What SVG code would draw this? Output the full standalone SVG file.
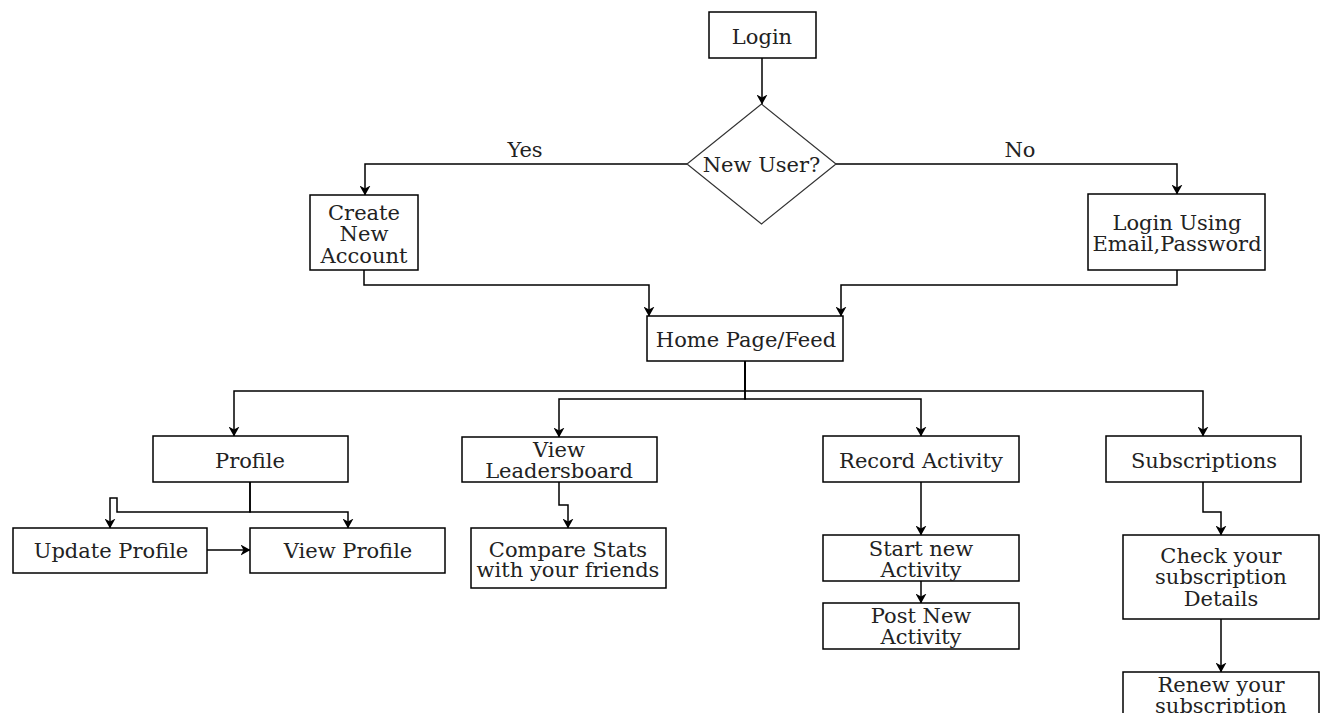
<svg xmlns="http://www.w3.org/2000/svg" width="1321" height="713" viewBox="0 0 1321 713">
<style>
.box{fill:#fff;stroke:#000;stroke-width:1.5}
.dia{fill:#fff;stroke:#333;stroke-width:1.2}
.t{font-family:"DejaVu Serif","Liberation Serif",serif;font-size:21px;fill:#222;text-anchor:middle}
.e{fill:none;stroke:#000;stroke-width:1.5;marker-end:url(#arr)}
</style>
<defs>
<marker id="arr" viewBox="0 0 10 11" refX="9.5" refY="5.5" markerWidth="10" markerHeight="11" markerUnits="userSpaceOnUse" orient="auto">
<path d="M0,0 L10,5.5 L0,11 L3,5.5 Z" fill="#000"/>
</marker>
</defs>
<rect width="1321" height="713" fill="#fff"/>
<g id="connectors">
<path class="e" d="M762,58 V104"/>
<path class="e" d="M687,164 H365 V195"/>
<path class="e" d="M836,164 H1177 V194"/>
<path class="e" d="M364,270 V285 H649 V316"/>
<path class="e" d="M1177,270 V285 H841 V316"/>
<path class="e" d="M745,361 V391 H234 V436"/>
<path class="e" d="M745,361 V391 H1203 V436"/>
<path class="e" d="M745,361 V399 H559 V437"/>
<path class="e" d="M745,361 V399 H921 V436"/>
<path class="e" d="M250,482 V512 H117 V498 H110 V528"/>
<path class="e" d="M250,482 V512 H348 V528"/>
<path class="e" d="M207,550 H250"/>
<path class="e" d="M559,482 V505 H568 V528"/>
<path class="e" d="M921,482 V535"/>
<path class="e" d="M921,581 V603"/>
<path class="e" d="M1203,482 V512 H1221 V535"/>
<path class="e" d="M1221,619 V672"/>
<text class="t" x="525" y="157">Yes</text>
<text class="t" x="1020" y="157">No</text>
</g>
<g id="login"><rect class="box" x="709" y="12" width="107" height="46"/><text class="t" x="762" y="44">Login</text></g>
<g id="newuser"><polygon class="dia" points="761.5,104 836,164 761.5,224 687,164"/><text class="t" x="761.5" y="172">New User?</text></g>
<g id="create"><rect class="box" x="310" y="195" width="108" height="75"/><text class="t" x="364" y="220">Create</text><text class="t" x="364" y="241">New</text><text class="t" x="364" y="263">Account</text></g>
<g id="loginusing"><rect class="box" x="1088" y="194" width="177" height="76"/><text class="t" x="1177" y="230">Login Using</text><text class="t" x="1177" y="251">Email,Password</text></g>
<g id="home"><rect class="box" x="647" y="316" width="196" height="45"/><text class="t" x="746" y="347">Home Page/Feed</text></g>
<g id="profile"><rect class="box" x="153" y="436" width="195" height="46"/><text class="t" x="250" y="468">Profile</text></g>
<g id="leaderboard"><rect class="box" x="462" y="437" width="195" height="45"/><text class="t" x="559" y="457">View</text><text class="t" x="559" y="478">Leadersboard</text></g>
<g id="record"><rect class="box" x="823" y="436" width="196" height="46"/><text class="t" x="921" y="468">Record Activity</text></g>
<g id="subscriptions"><rect class="box" x="1106" y="436" width="195" height="46"/><text class="t" x="1204" y="468">Subscriptions</text></g>
<g id="update"><rect class="box" x="13" y="528" width="194" height="45"/><text class="t" x="111" y="558">Update Profile</text></g>
<g id="viewprofile"><rect class="box" x="250" y="528" width="195" height="45"/><text class="t" x="348" y="558">View Profile</text></g>
<g id="compare"><rect class="box" x="471" y="528" width="195" height="60"/><text class="t" x="568" y="557">Compare Stats</text><text class="t" x="568" y="577">with your friends</text></g>
<g id="start"><rect class="box" x="823" y="535" width="196" height="46"/><text class="t" x="921" y="556">Start new</text><text class="t" x="921" y="577">Activity</text></g>
<g id="post"><rect class="box" x="823" y="603" width="196" height="46"/><text class="t" x="921" y="623">Post New</text><text class="t" x="921" y="644">Activity</text></g>
<g id="check"><rect class="box" x="1123" y="535" width="196" height="84"/><text class="t" x="1221" y="563">Check your</text><text class="t" x="1221" y="584">subscription</text><text class="t" x="1221" y="606">Details</text></g>
<g id="renew"><rect class="box" x="1123" y="672" width="196" height="60"/><text class="t" x="1221" y="692">Renew your</text><text class="t" x="1221" y="713">subscription</text></g>
</svg>
